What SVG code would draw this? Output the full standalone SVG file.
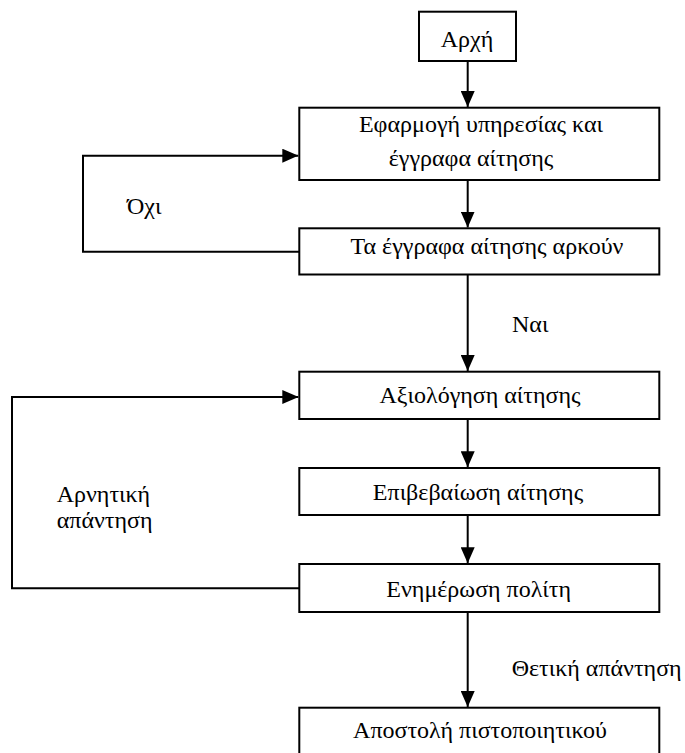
<svg xmlns="http://www.w3.org/2000/svg" width="685" height="753" viewBox="0 0 685 753">
<defs>
<style>
.box{fill:#fff;stroke:#000;stroke-width:2}
.t{font-family:"Liberation Serif","Times New Roman",serif;font-size:24px;fill:#000}
.m{text-anchor:middle}
.c{fill:none;stroke:#000;stroke-width:2}
</style>
<marker id="ah" markerUnits="userSpaceOnUse" markerWidth="16" markerHeight="14" refX="16" refY="7" orient="auto">
<polygon points="0,0 16,7 0,14" fill="#000"/>
</marker>
</defs>
<rect width="685" height="753" fill="#fff"/>
<g id="connectors">
<line class="c" x1="467.7" y1="61" x2="467.7" y2="107" marker-end="url(#ah)"/>
<line class="c" x1="467.7" y1="180" x2="467.7" y2="227.5" marker-end="url(#ah)"/>
<line class="c" x1="467.7" y1="274.5" x2="467.7" y2="371" marker-end="url(#ah)"/>
<line class="c" x1="467.7" y1="419" x2="467.7" y2="467.3" marker-end="url(#ah)"/>
<line class="c" x1="467.7" y1="515" x2="467.7" y2="563.3" marker-end="url(#ah)"/>
<line class="c" x1="467.7" y1="612" x2="467.7" y2="707" marker-end="url(#ah)"/>
<polyline class="c" points="299,251.7 83,251.7 83,155.7 298.3,155.7" marker-end="url(#ah)"/>
<polyline class="c" points="299,588.3 12,588.3 12,397 298.3,397" marker-end="url(#ah)"/>
<text class="t" x="127" y="214">Όχι</text>
<text class="t" x="512" y="331.7">Ναι</text>
<text class="t" x="56.7" y="501.7">Αρνητική</text>
<text class="t" x="56.7" y="528">απάντηση</text>
<text class="t" x="511.7" y="676">Θετική απάντηση</text>
</g>
<g id="start">
<rect class="box" x="419" y="11.7" width="97" height="49.3"/>
<text class="t m" x="467" y="46.5">Αρχή</text>
</g>
<g id="apply">
<rect class="box" x="299.3" y="107.7" width="360" height="72.3"/>
<text class="t m" x="481" y="131.7">Εφαρμογή υπηρεσίας και</text>
<text class="t m" x="471" y="165.7">έγγραφα αίτησης</text>
</g>
<g id="enough">
<rect class="box" x="299.3" y="228.3" width="360" height="46.2"/>
<text class="t m" x="487" y="254">Τα έγγραφα αίτησης αρκούν</text>
</g>
<g id="evaluate">
<rect class="box" x="299.3" y="371.7" width="360" height="47.3"/>
<text class="t m" x="480" y="403.3">Αξιολόγηση αίτησης</text>
</g>
<g id="confirm">
<rect class="box" x="299.3" y="468" width="360" height="47"/>
<text class="t m" x="478" y="500">Επιβεβαίωση αίτησης</text>
</g>
<g id="inform">
<rect class="box" x="299.3" y="564" width="360" height="48"/>
<text class="t m" x="478.7" y="596.7">Ενημέρωση πολίτη</text>
</g>
<g id="send">
<rect class="box" x="299.3" y="707.7" width="360" height="60"/>
<text class="t m" x="480" y="738.3">Αποστολή πιστοποιητικού</text>
</g>
</svg>
